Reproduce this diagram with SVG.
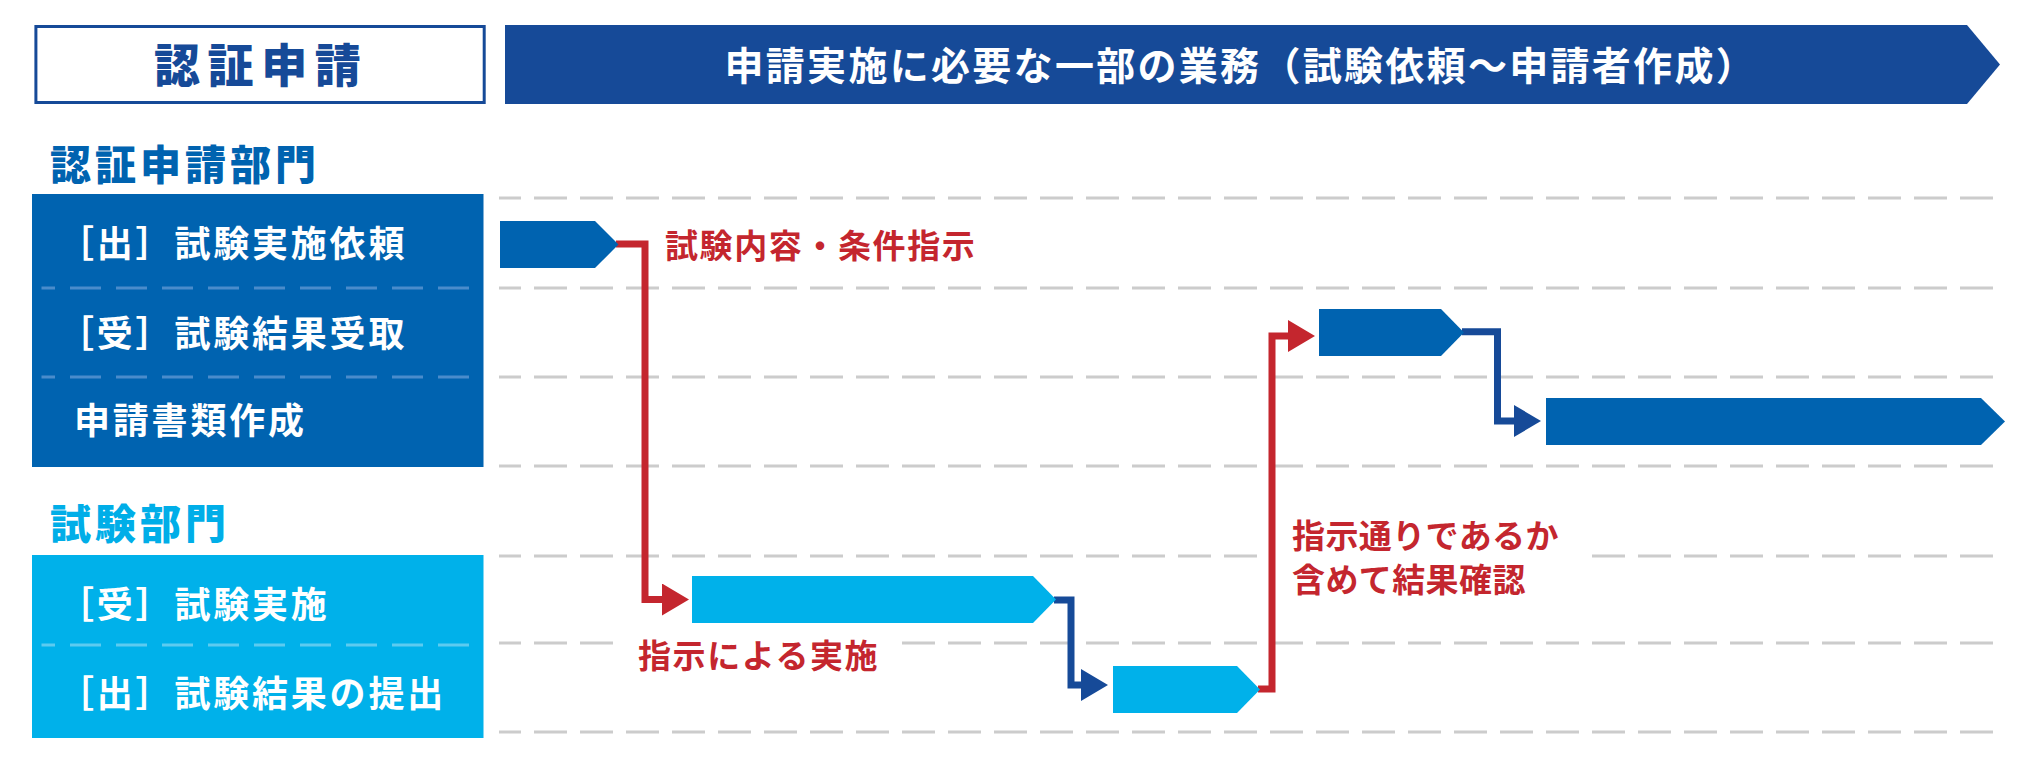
<svg xmlns="http://www.w3.org/2000/svg" width="2024" height="760" viewBox="0 0 2024 760">
  <style>
    text { font-family: "Liberation Sans", "Noto Sans CJK JP", sans-serif; }
    .hdr { font-size: 39px; font-weight: 700; fill: #ffffff; letter-spacing: 2.3px; }
    .boxttl { font-size: 46px; font-weight: 900; fill: #164a98; letter-spacing: 7.6px; }
    .sec1 { font-size: 41px; font-weight: 900; fill: #0063b0; letter-spacing: 4px; }
    .sec2 { font-size: 41px; font-weight: 900; fill: #00aee8; letter-spacing: 4px; }
    .row { font-size: 36px; font-weight: 700; fill: #ffffff; letter-spacing: 2.8px; }
    .lbl { font-size: 33px; font-weight: 700; fill: #c4262e; letter-spacing: 1.6px; }
    .lbl2 { font-size: 33px; font-weight: 700; fill: #c4262e; letter-spacing: 0.4px; }
    .grid { stroke: #cccccc; stroke-width: 3; stroke-dasharray: 33 13; stroke-dashoffset: 11; fill: none; }
    .sep1 { stroke: #4a8ccb; stroke-width: 3; stroke-dasharray: 31 15; stroke-dashoffset: 17.5; fill: none; }
    .sep2 { stroke: #5ccbf0; stroke-width: 3; stroke-dasharray: 31 15; stroke-dashoffset: 17.5; fill: none; }
    .red { stroke: #c4262e; stroke-width: 7; fill: none; }
    .blu { stroke: #164a98; stroke-width: 7; fill: none; }
    .bar1 { fill: #0063b0; }
    .bar2 { fill: #00b1ea; }
  </style>
  <defs>
    <marker id="ahR" markerUnits="userSpaceOnUse" markerWidth="28" markerHeight="32" viewBox="0 0 28 32" refX="1" refY="16" orient="auto">
      <path d="M0,0 L27,16 L0,32 Z" fill="#c4262e"/>
    </marker>
    <marker id="ahB" markerUnits="userSpaceOnUse" markerWidth="28" markerHeight="32" viewBox="0 0 28 32" refX="1" refY="16" orient="auto">
      <path d="M0,0 L27,16 L0,32 Z" fill="#164a98"/>
    </marker>
  </defs>
  <rect width="2024" height="760" fill="#ffffff"/>

  <!-- header -->
  <g id="header-box">
    <rect x="35.9" y="26.5" width="448.3" height="76" fill="#ffffff" stroke="#164a98" stroke-width="3"/>
    <text class="boxttl" x="154" y="82">認証申請</text>
  </g>
  <g id="header-arrow">
    <polygon points="505,25 1967,25 2000,64.5 1967,104 505,104" fill="#164a98"/>
    <text class="hdr" x="724.5" y="79.8">申請実施に必要な一部の業務（試験依頼〜申請者作成）</text>
  </g>

  <!-- grid lines -->
  <g id="grid">
    <line class="grid" x1="499" y1="198" x2="1994" y2="198"/>
    <line class="grid" x1="499" y1="288" x2="1994" y2="288"/>
    <line class="grid" x1="499" y1="377" x2="1994" y2="377"/>
    <line class="grid" x1="499" y1="466" x2="1994" y2="466"/>
    <line class="grid" x1="499" y1="556" x2="1994" y2="556"/>
    <line class="grid" x1="499" y1="643" x2="1994" y2="643"/>
    <line class="grid" x1="499" y1="732" x2="1994" y2="732"/>
  </g>

  <!-- department 1 -->
  <g id="dept-ninsho">
    <text class="sec1" x="50" y="179.6">認証申請部門</text>
    <rect x="32" y="194" width="451.5" height="273" fill="#0063b0"/>
    <line class="sep1" x1="41.5" y1="288" x2="471" y2="288"/>
    <line class="sep1" x1="41.5" y1="377" x2="471" y2="377"/>
    <text class="row" x="58" y="256.7">［出］試験実施依頼</text>
    <text class="row" x="58" y="346.7">［受］試験結果受取</text>
    <text class="row" x="74" y="433.7">申請書類作成</text>
  </g>

  <!-- department 2 -->
  <g id="dept-shiken">
    <text class="sec2" x="50" y="538.6">試験部門</text>
    <rect x="32" y="555" width="451.5" height="183" fill="#00b1ea"/>
    <line class="sep2" x1="41.5" y1="645" x2="471" y2="645"/>
    <text class="row" x="58" y="617.7">［受］試験実施</text>
    <text class="row" x="58" y="707.2">［出］試験結果の提出</text>
  </g>

  <!-- connectors -->
  <g id="connectors">
    <rect x="616" y="632" width="283" height="46" fill="#ffffff"/>
    <rect x="1262" y="512" width="323" height="92" fill="#ffffff"/>
    <polyline class="red" points="616,244 645,244 645,599.5 663,599.5" marker-end="url(#ahR)"/>
    <polyline class="blu" points="1054,600 1071,600 1071,685 1082,685" marker-end="url(#ahB)"/>
    <polyline class="red" points="1258,689 1272,689 1272,336 1289,336" marker-end="url(#ahR)"/>
    <polyline class="blu" points="1462,331.7 1497.5,331.7 1497.5,421 1515,421" marker-end="url(#ahB)"/>
    <text class="lbl" x="665" y="257.5">試験内容・条件指示</text>
    <text class="lbl" x="638" y="667.5">指示による実施</text>
    <text class="lbl2" x="1292" y="547.5">指示通りであるか</text>
    <text class="lbl2" x="1292" y="591.5">含めて結果確認</text>
  </g>

  <!-- task bars -->
  <g id="bar-request">
    <polygon class="bar1" points="500,221 595,221 618.5,244.6 595,268 500,268"/>
  </g>
  <g id="bar-test">
    <polygon class="bar2" points="692,576 1033,576 1056,599.5 1033,623 692,623"/>
  </g>
  <g id="bar-submit">
    <polygon class="bar2" points="1113,666 1237,666 1260,689.5 1237,713 1113,713"/>
  </g>
  <g id="bar-receive">
    <polygon class="bar1" points="1319,309 1441,309 1464,332.5 1441,356 1319,356"/>
  </g>
  <g id="bar-document">
    <polygon class="bar1" points="1546,398 1981,398 2005,421.5 1981,445 1546,445"/>
  </g>
</svg>
